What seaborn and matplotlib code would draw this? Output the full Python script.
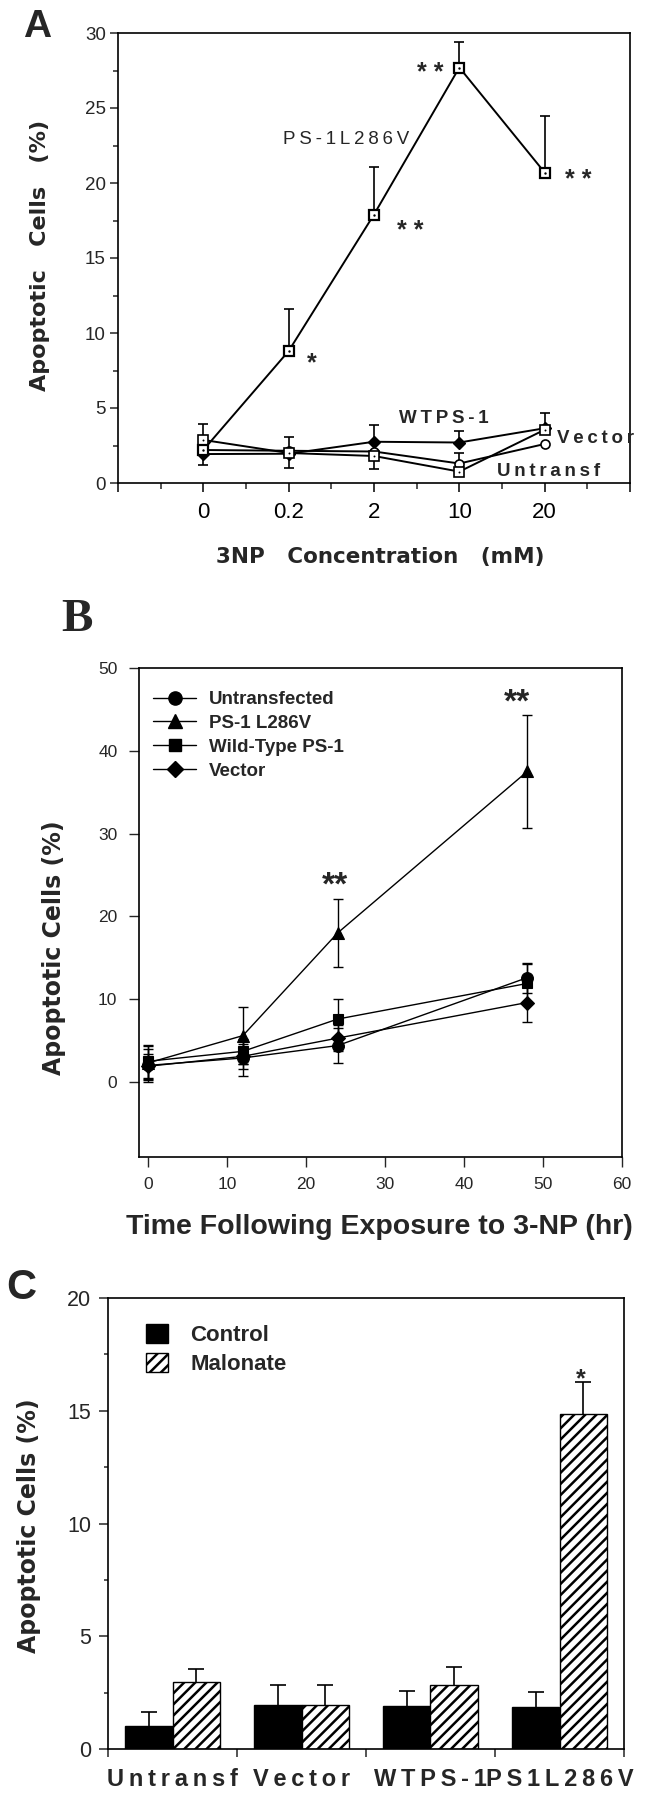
import numpy as np
import pandas as pd
import matplotlib
matplotlib.use("Agg")
import matplotlib.pyplot as plt
import seaborn as sns
from matplotlib.ticker import MultipleLocator, FixedLocator
from matplotlib.patches import Patch
from matplotlib.lines import Line2D

sns.set_theme(style="white")
plt.rcParams["font.family"] = ["Liberation Sans", "DejaVu Sans"]
plt.rcParams["hatch.linewidth"] = 1.8
plt.rcParams["hatch.color"] = "black"

# ---------------- Panel A data (3NP concentration) ----------------
a_conc_labels = ["0", "0.2", "2", "10", "20"]
a_ps1 = [2.2, 8.8, 17.9, 27.7, 20.7]
a_ps1_up = [0, 2.8, 3.2, 1.7, 3.8]
a_wt = [1.93, 1.95, 2.75, 2.7, 3.65]
a_wt_up = [0, 1.15, 1.1, 0.75, 1.0]
a_wt_lo = [0.73, 0.95, 0, 0, 0]
a_vec = [2.2, 2.15, 2.1, 1.3, 2.6]
a_vec_up = [0, 0, 0, 0.7, 0]
a_unt = [2.87, 2.0, 1.8, 0.76, 3.55]
a_unt_up = [1.06, 0, 0, 0, 0]
a_unt_lo = [0, 0, 0.85, 0, 0]

# ---------------- Panel B data (time course) ----------------
b_time = [0, 12, 24, 48]
b_unt = [2.0, 2.9, 4.4, 12.6]
b_unt_err = [2.0, 2.2, 2.1, 1.8]
b_ps1 = [2.3, 5.6, 18.0, 37.5]
b_ps1_err = [2.0, 3.4, 4.1, 6.8]
b_wt = [2.5, 3.7, 7.6, 11.9]
b_wt_err = [2.0, 1.5, 2.4, 2.3]
b_vec = [1.9, 3.1, 5.3, 9.6]
b_vec_err = [1.5, 1.5, 1.6, 2.3]

# ---------------- Panel C data (malonate) ----------------
c_cells = ["Untransf", "Vector", "WTPS-1", "PS1L286V"]
c_treatments = ["Control", "Malonate"]
c_control = [1.0, 1.93, 1.89, 1.86]
c_control_err = [0.63, 0.91, 0.69, 0.68]
c_malonate = [2.95, 1.93, 2.84, 14.86]
c_malonate_err = [0.61, 0.70, 0.79, 1.42]

W, H = 647, 1800
fig = plt.figure(figsize=(W / 100, H / 100), dpi=100)
fig.patch.set_facecolor("white")


def box(l, t, r, b):
    return [l / W, 1 - b / H, (r - l) / W, (b - t) / H]


def ftext(x, y, s, **kw):
    fig.text(x / W, 1 - y / H, s, **kw)


def spaced(s):
    return "\u2009".join(s)


def one_sided(ax, x, y, up, lo, cap, lw):
    for xi, yi, u, l in zip(x, y, up, lo):
        if u > 0:
            ax.vlines(xi, yi, yi + u, color="black", lw=lw, zorder=2)
            ax.plot([xi], [yi + u], marker="_", ms=cap, mew=lw, color="black", zorder=2)
        if l > 0:
            ax.vlines(xi, yi - l, yi, color="black", lw=lw, zorder=2)
            ax.plot([xi], [yi - l], marker="_", ms=cap, mew=lw, color="black", zorder=2)


def style_box(ax):
    for sp in ax.spines.values():
        sp.set_visible(True)
        sp.set_color("black")
        sp.set_linewidth(1.2)
    ax.set_facecolor("white")
    ax.grid(False)


# ======================= Panel A =======================
axA = fig.add_axes(box(118, 33, 630, 483))
style_box(axA)
xa = np.arange(len(a_conc_labels))
zero = [0] * len(xa)

sns.lineplot(x=xa, y=a_wt, ax=axA, color="black", marker="D", markersize=6,
             markerfacecolor="black", markeredgecolor="black", markeredgewidth=1,
             linewidth=1.4, errorbar=None, legend=False, zorder=3)
sns.lineplot(x=xa, y=a_vec, ax=axA, color="black", marker="o", markersize=6.5,
             markerfacecolor="white", markeredgecolor="black", markeredgewidth=1.2,
             linewidth=1.4, errorbar=None, legend=False, zorder=3)
sns.lineplot(x=xa, y=a_unt, ax=axA, color="black", marker="s", markersize=6.5,
             markerfacecolor="white", markeredgecolor="black", markeredgewidth=1.2,
             linewidth=1.4, errorbar=None, legend=False, zorder=3)
sns.lineplot(x=xa, y=a_ps1, ax=axA, color="black", marker="s", markersize=6.5,
             markerfacecolor="white", markeredgecolor="black", markeredgewidth=1.6,
             linewidth=1.4, errorbar=None, legend=False, zorder=4)
sns.scatterplot(x=xa, y=a_ps1, ax=axA, color="black", s=3, linewidth=0, legend=False, zorder=5)
sns.scatterplot(x=xa, y=a_unt, ax=axA, color="black", s=2, linewidth=0, legend=False, zorder=5)

one_sided(axA, xa, a_ps1, a_ps1_up, zero, 7, 1.2)
one_sided(axA, xa, a_wt, a_wt_up, a_wt_lo, 7, 1.2)
one_sided(axA, xa, a_vec, a_vec_up, zero, 7, 1.2)
one_sided(axA, xa, a_unt, a_unt_up, a_unt_lo, 7, 1.2)

axA.set_xlim(-1, 5)
axA.set_ylim(0, 30)
axA.set_xticks(range(-1, 6))
axA.set_xticklabels([""] + a_conc_labels + [""])
axA.xaxis.set_minor_locator(FixedLocator(np.arange(-0.5, 5, 1.0)))
axA.set_yticks(range(0, 31, 5))
axA.yaxis.set_minor_locator(MultipleLocator(2.5))
axA.tick_params(axis="x", which="major", direction="out", length=6.5, width=1.1,
                labelsize=16, pad=7, bottom=True, colors="black")
axA.tick_params(axis="x", which="minor", direction="out", length=4.3, width=1.1, bottom=True)
axA.tick_params(axis="y", which="major", direction="out", length=5.8, width=1.1,
                labelsize=13.5, pad=3, left=True)
axA.tick_params(axis="y", which="minor", direction="out", length=3.6, width=1.1, left=True)
axA.set_xlabel("")
axA.set_ylabel("")


def star(ax, s, x, y, size, **kw):
    ax.annotate(s, xy=(x, y), xytext=(0, -0.575 * size), textcoords="offset points",
                ha="center", va="baseline", fontsize=size, fontweight="bold",
                annotation_clip=False, **kw)


star(axA, "*", 1.27, 8.5, 18)
star(axA, "* *", 2.42, 17.3, 18)
star(axA, "* *", 2.66, 27.8, 18)
star(axA, "* *", 4.39, 20.7, 18)

axA.text(1.67, 22.9, spaced("PS-1L286V"), ha="center", va="center", fontsize=13.5)
axA.text(2.82, 4.3, spaced("WTPS-1"), ha="center", va="center", fontsize=13.5, fontweight="bold")
axA.text(4.6, 2.95, spaced("Vector"), ha="center", va="center", fontsize=13.5,
         fontweight="bold", clip_on=False)
axA.text(4.05, 0.8, spaced("Untransf"), ha="center", va="center", fontsize=13.5, fontweight="bold")

ftext(37, 27, "A", ha="center", va="center", fontsize=28, fontweight="bold")
ftext(40, 255, "Apoptotic   Cells   (%)", rotation=90, ha="center", va="center",
      fontsize=16, fontweight="bold", family="DejaVu Sans")
ftext(380, 557, "3NP   Concentration   (mM)", ha="center", va="center",
      fontsize=15.5, fontweight="bold", family="DejaVu Sans")

# ======================= Panel B =======================
axB = fig.add_axes(box(139, 668, 622, 1157))
style_box(axB)
b_series = [
    ("Untransfected", b_unt, b_unt_err, "o", 8.5),
    ("PS-1 L286V", b_ps1, b_ps1_err, "^", 9),
    ("Wild-Type PS-1", b_wt, b_wt_err, "s", 7.5),
    ("Vector", b_vec, b_vec_err, "D", 7.5),
]
handles = []
for name, vals, err, mk, ms in b_series:
    sns.lineplot(x=b_time, y=vals, ax=axB, color="black", marker=mk, markersize=ms,
                 markerfacecolor="black", markeredgecolor="black", markeredgewidth=0.8,
                 linewidth=1.0, errorbar=None, legend=False, zorder=3)
    axB.errorbar(b_time, vals, yerr=err, fmt="none", ecolor="black", elinewidth=1.0,
                 capsize=3.5, capthick=1.0, zorder=2)
    handles.append(Line2D([], [], color="black", marker=mk, markersize=ms + 1,
                          markerfacecolor="black", markeredgecolor="black", linewidth=1.0))

axB.set_xlim(-1.15, 60)
axB.set_ylim(-9.06, 50)
axB.set_xticks(range(0, 61, 10))
axB.set_yticks(range(0, 51, 10))
axB.tick_params(axis="x", direction="out", length=7, width=1.0, labelsize=12.5, pad=7.5, bottom=True)
axB.tick_params(axis="y", direction="out", length=7, width=1.0, labelsize=12.5, pad=8.5, left=True)
axB.set_xlabel("")
axB.set_ylabel("")

star(axB, "**", 23.7, 25.0, 24)
star(axB, "**", 46.7, 47.0, 24)

axB.legend(handles, [s[0] for s in b_series], loc="upper left",
           bbox_to_anchor=(153 / W, 1 - 691 / H), bbox_transform=fig.transFigure,
           frameon=False, borderpad=0, borderaxespad=0, handlelength=2.3,
           handletextpad=0.7, labelspacing=0.36, prop={"size": 13.5, "weight": "bold"})

ftext(77, 620, "B", ha="center", va="center", fontsize=34, fontweight="bold",
      family="Liberation Serif")
ftext(54, 948, "Apoptotic Cells (%)", rotation=90, ha="center", va="center",
      fontsize=17, fontweight="bold", family="DejaVu Sans")
ftext(379, 1227, "Time Following Exposure to 3-NP (hr)", ha="center", va="center",
      fontsize=20.5, fontweight="bold")

# ======================= Panel C =======================
axC = fig.add_axes(box(108, 1298, 624, 1749))
style_box(axC)
dfC = pd.DataFrame({
    "cell": c_cells * 2,
    "treatment": [c_treatments[0]] * 4 + [c_treatments[1]] * 4,
    "value": c_control + c_malonate,
    "err": c_control_err + c_malonate_err,
})
sns.barplot(data=dfC, x="cell", y="value", hue="treatment", order=c_cells,
            hue_order=c_treatments, palette={"Control": "black", "Malonate": "white"},
            saturation=1, edgecolor="black", linewidth=1.0, width=0.735, gap=0,
            errorbar=None, legend=False, ax=axC, zorder=2)

for p in axC.patches:
    fc = p.get_facecolor()
    if fc[0] > 0.5:
        p.set_hatch("///")
    p.set_edgecolor("black")

# error bars on top of bars, from bar geometry
bars = sorted(axC.patches, key=lambda p: p.get_x())
for p in bars:
    cx = p.get_x() + p.get_width() / 2
    h = p.get_height()
    row = dfC[np.isclose(dfC["value"], h)]
    e = float(row["err"].iloc[0])
    one_sided(axC, [cx], [h], [e], [0], 11.5, 1.2)
    if np.isclose(h, max(c_malonate)):
        star(axC, "*", cx - 0.02, h + e + 0.45, 18)

axC.set_xlim(-0.5, 3.5)
axC.set_ylim(0, 20)
axC.set_yticks(range(0, 21, 5))
axC.yaxis.set_minor_locator(MultipleLocator(2.5))
axC.set_xticks(range(4))
axC.set_xticklabels([spaced(c) for c in c_cells], fontweight="bold")
axC.xaxis.set_minor_locator(FixedLocator(np.arange(-0.5, 4, 1.0)))
axC.tick_params(axis="x", which="major", length=0, labelsize=17, pad=14)
axC.tick_params(axis="x", which="minor", direction="out", length=5.8, width=1.1, bottom=True)
axC.tick_params(axis="y", which="major", direction="out", length=6.5, width=1.1,
                labelsize=15.5, pad=5.5, left=True)
axC.tick_params(axis="y", which="minor", direction="out", length=3, width=1.1, left=True)
axC.set_xlabel("")
axC.set_ylabel("")

c_handles = [Patch(facecolor="black", edgecolor="black"),
             Patch(facecolor="white", edgecolor="black", hatch="///")]
axC.legend(c_handles, c_treatments, loc="upper left",
           bbox_to_anchor=(146 / W, 1 - 1324 / H), bbox_transform=fig.transFigure,
           frameon=False, borderpad=0, borderaxespad=0, handlelength=1.0,
           handleheight=0.95, handletextpad=1.0, labelspacing=0.3,
           prop={"size": 16, "weight": "bold"})

ftext(21, 1288, "C", ha="center", va="center", fontsize=30, fontweight="bold")
ftext(29, 1526, "Apoptotic Cells (%)", rotation=90, ha="center", va="center",
      fontsize=17, fontweight="bold", family="DejaVu Sans")

fig.savefig("out.png", dpi=100, facecolor="white")
